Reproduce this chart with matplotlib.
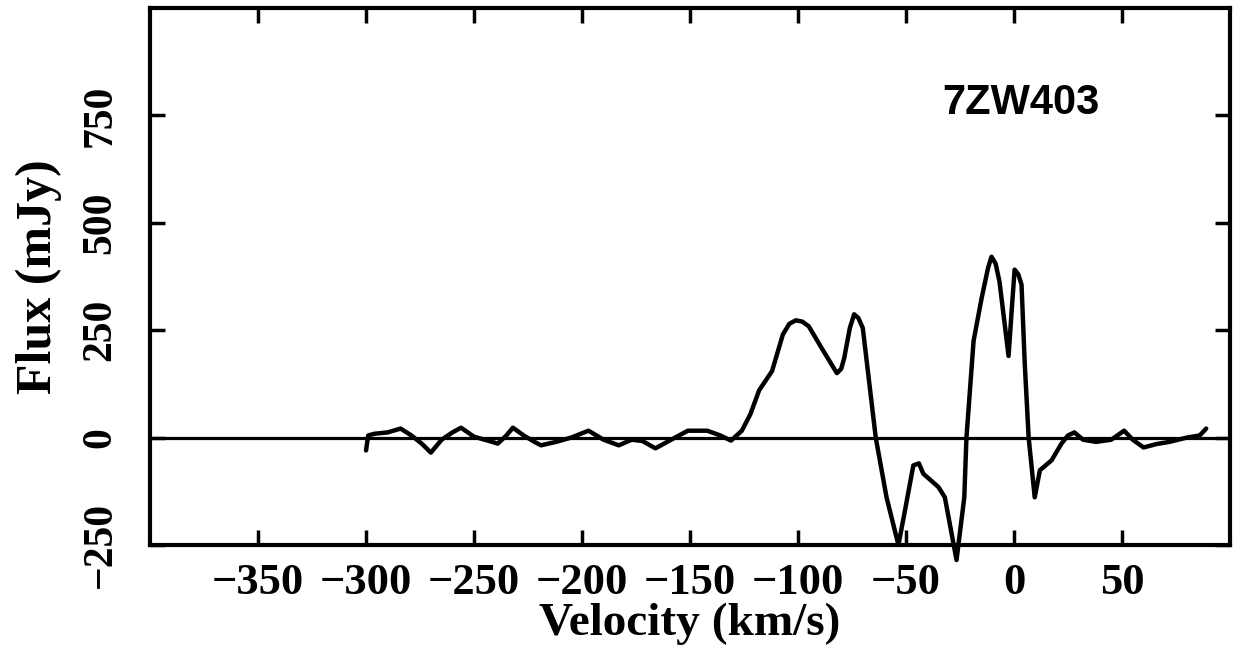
import matplotlib.pyplot as plt
import numpy as np

# HI spectrum of 7ZW403
velocity = [-300, -299, -296, -290, -284, -279, -274, -270, -265, -260, -256,
            -250, -245, -239, -235, -232, -227, -222, -219, -212, -205, -197,
            -190, -183, -177, -172, -166, -158, -151, -142, -136, -131, -126,
            -122, -118, -112, -107, -104, -101, -98, -95, -89, -82, -80, -78.6,
            -76, -74, -72, -70, -64, -59, -53.5, -50.7, -46.6, -44, -42, -35,
            -32, -26.6, -23, -22, -18.7, -15, -12, -10.4, -8.5, -6.7, -2.5,
            -1, 0.3, 2, 3.5, 5, 6.8, 9.6, 12, 17.4, 22, 25, 28, 32, 38, 45,
            51, 55, 60, 66, 72, 80, 86, 89]
flux = [-30, 5, 9, 12, 21, 5, -15, -35, -5, 12, 23,
        2, -5, -14, 5, 23, 5, -10, -18, -10, 0, 16,
        -5, -18, -5, -8, -25, -3, 16, 16, 5, -7, 16,
        55, 110, 155, 240, 265, 273, 270, 259, 208, 150, 160, 185,
        255, 287, 278, 255, 0, -139, -250, -176, -65, -60, -84, -115,
        -139, -285, -139, 0, 225, 324, 395, 421, 405, 363, 190,
        300, 391, 380, 356, 171, 0, -139, -76, -53, -14, 5, 12, -5, -10, -5,
        16, -5, -23, -15, -10, 0, 5, 21]

xticks = [-350, -300, -250, -200, -150, -100, -50, 0, 50]
yticks = [-250, 0, 250, 500, 750]

plt.rcParams['font.family'] = ['Liberation Serif', 'DejaVu Serif']
plt.rcParams['font.weight'] = 'bold'

fig = plt.figure(figsize=(12.37, 6.57), dpi=100)
ax = fig.add_axes([0.1213, 0.1705, 0.8730, 0.8173])

ax.axhline(0, color='black', lw=2.3)
ax.plot(velocity, flux, color='black', lw=3.2, solid_joinstyle='round',
        solid_capstyle='round', clip_on=False)

ax.set_xlim(-400, 100)
ax.set_ylim(-250, 1000)
ax.set_xticks(xticks)
ax.set_yticks(yticks)
ax.set_xticklabels(['\u2212' + str(-t) if t < 0 else str(t) for t in xticks],
                   fontsize=32, fontweight='bold')
ax.set_yticklabels(['\u2212' + str(-t) if t < 0 else str(t) for t in yticks],
                   fontsize=30, fontweight='bold', rotation=90, va='center')

ax.tick_params(axis='both', direction='in', length=11, width=2.5,
               top=True, right=True)
ax.tick_params(axis='x', pad=13)
ax.tick_params(axis='y', pad=22)
for s in ax.spines.values():
    s.set_linewidth(3)

ax.set_xlabel('Velocity (km/s)', fontsize=34, fontweight='bold', labelpad=0)
ax.set_ylabel('Flux (mJy)', fontsize=36, fontweight='bold', labelpad=14)

ax.text(3, 778, '7ZW403', fontsize=30, fontweight='bold',
        family=['Liberation Sans', 'DejaVu Sans'], ha='center', va='center')

fig.savefig('out.png', dpi=100)
